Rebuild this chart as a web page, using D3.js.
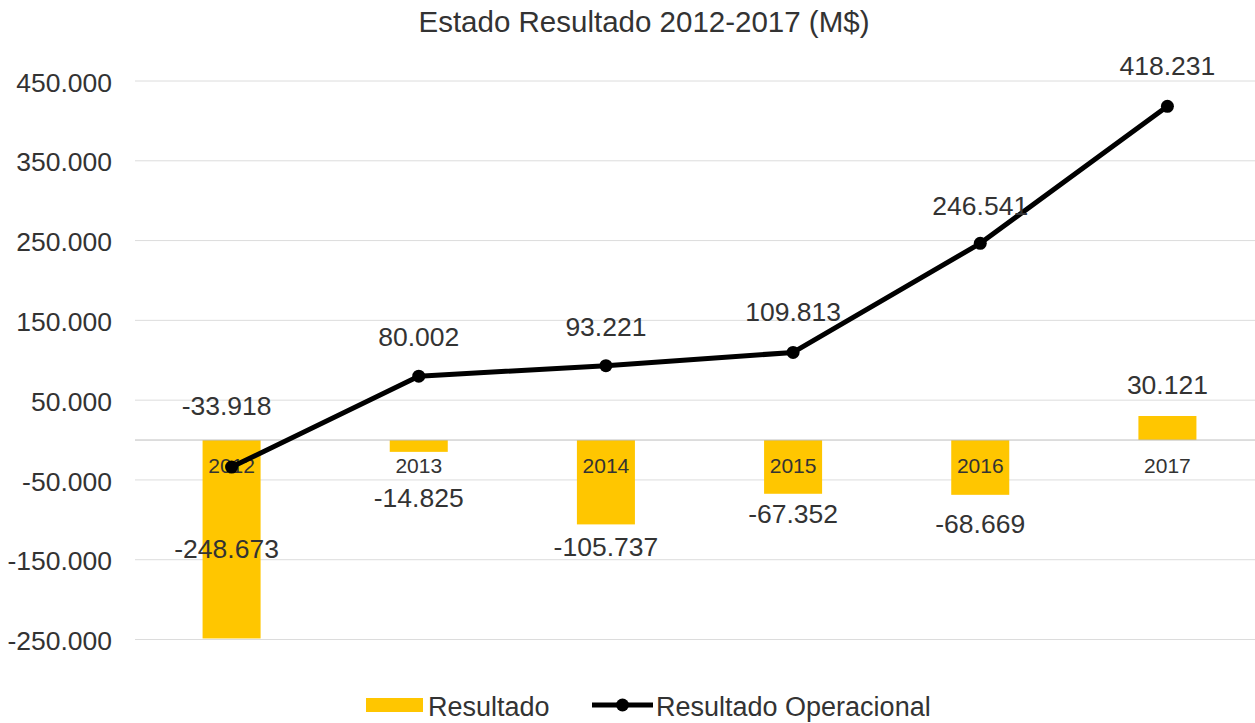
<!DOCTYPE html>
<html>
<head>
<meta charset="utf-8">
<script src="https://cdn.jsdelivr.net/npm/d3@7"></script>
<style>
  html, body { margin: 0; padding: 0; background: #fff; }
  svg { display: block; font-family: "Liberation Sans", Arial, sans-serif; }
</style>
</head>
<body>
<svg id="chart" width="1255" height="723"></svg>
<script>
// ---- data ----
const years = ["2012", "2013", "2014", "2015", "2016", "2017"];
const resultado = [-248673, -14825, -105737, -67352, -68669, 30121];
const resultadoOperacional = [-33918, 80002, 93221, 109813, 246541, 418231];
const yTicks = [-250000, -150000, -50000, 50000, 150000, 250000, 350000, 450000];
const seriesNames = ["Resultado", "Resultado Operacional"];
const titleText = "Estado Resultado 2012-2017 (M$)";

// ---- layout tweaks for label placement (px, not data) ----
const barLabelDy = [-80, 55, 32, 29, 38, -22];
const lineLabelDy = [-52, -30, -30, -31, -28, -31];
const labelDx = [-5, 0, 0, 0, 0, 0];

const svg = d3.select("#chart");
const locale = d3.formatLocale({ decimal: ",", thousands: ".", grouping: [3], currency: ["$", ""], minus: "-" });
const fmt = locale.format(",d");

const x = d3.scaleBand().domain(years).range([138, 1261]).paddingInner(0.69).paddingOuter(0.345);
const y = d3.scaleLinear().domain([-250000, 450000]).range([639.5, 81]);

const textColor = "#333";
const barColor = "#FFC600";

// title
svg.append("text")
  .attr("x", 644).attr("y", 32)
  .attr("text-anchor", "middle")
  .attr("font-size", 29.5)
  .attr("fill", textColor)
  .text(titleText);

// gridlines + y axis labels
const yAxis = d3.axisLeft(y).tickValues(yTicks).tickFormat(fmt).tickSize(0).tickPadding(0);
const gAxis = svg.append("g").attr("transform", "translate(112,0)").call(yAxis);
gAxis.select(".domain").remove();
gAxis.selectAll("text").attr("font-size", 26.5).attr("fill", textColor)
  .attr("font-family", "Liberation Sans, Arial, sans-serif").attr("dy", "0.38em");

svg.append("g").selectAll("line").data(yTicks).join("line")
  .attr("x1", 135).attr("x2", 1262)
  .attr("y1", d => y(d)).attr("y2", d => y(d))
  .attr("stroke", "#dcdcdc").attr("stroke-width", 1);

// bars
const bw = x.bandwidth();
svg.append("g").selectAll("rect").data(years).join("rect")
  .attr("x", d => x(d))
  .attr("width", bw)
  .attr("y", (d, i) => Math.min(y(0), y(resultado[i])))
  .attr("height", (d, i) => Math.abs(y(resultado[i]) - y(0)))
  .attr("fill", barColor);

// zero line
svg.append("line")
  .attr("x1", 135).attr("x2", 1262)
  .attr("y1", y(0)).attr("y2", y(0))
  .attr("stroke", "#bdbdbd").attr("stroke-width", 1);

// category labels
svg.append("g").selectAll("text").data(years).join("text")
  .attr("x", d => x(d) + bw / 2)
  .attr("y", y(0) + 33)
  .attr("text-anchor", "middle")
  .attr("font-size", 21)
  .attr("fill", textColor)
  .text(d => d);

// bar value labels
svg.append("g").selectAll("text").data(resultado).join("text")
  .attr("x", (d, i) => x(years[i]) + bw / 2 + labelDx[i])
  .attr("y", (d, i) => y(d) + barLabelDy[i])
  .attr("text-anchor", "middle")
  .attr("font-size", 26.5)
  .attr("fill", textColor)
  .text(d => fmt(d));

// line
const line = d3.line()
  .x((d, i) => x(years[i]) + bw / 2)
  .y(d => y(d));
svg.append("path")
  .datum(resultadoOperacional)
  .attr("d", line)
  .attr("fill", "none")
  .attr("stroke", "#000")
  .attr("stroke-width", 5)
  .attr("stroke-linejoin", "round");

svg.append("g").selectAll("circle").data(resultadoOperacional).join("circle")
  .attr("cx", (d, i) => x(years[i]) + bw / 2)
  .attr("cy", d => y(d))
  .attr("r", 6.5)
  .attr("fill", "#000");

// line labels
svg.append("g").selectAll("text").data(resultadoOperacional).join("text")
  .attr("x", (d, i) => x(years[i]) + bw / 2 + labelDx[i])
  .attr("y", (d, i) => y(d) + lineLabelDy[i])
  .attr("text-anchor", "middle")
  .attr("font-size", 26.5)
  .attr("fill", textColor)
  .text(d => fmt(d));

// legend
const lg = svg.append("g");
lg.append("rect").attr("x", 366).attr("y", 698).attr("width", 57).attr("height", 14).attr("fill", barColor);
lg.append("text").attr("x", 428).attr("y", 716).attr("font-size", 27).attr("fill", textColor).text(seriesNames[0]);
lg.append("line").attr("x1", 592).attr("x2", 653).attr("y1", 705).attr("y2", 705)
  .attr("stroke", "#000").attr("stroke-width", 5);
lg.append("circle").attr("cx", 622.5).attr("cy", 705).attr("r", 6.5).attr("fill", "#000");
lg.append("text").attr("x", 656).attr("y", 716).attr("font-size", 27).attr("fill", textColor).text(seriesNames[1]);
</script>
</body>
</html>
